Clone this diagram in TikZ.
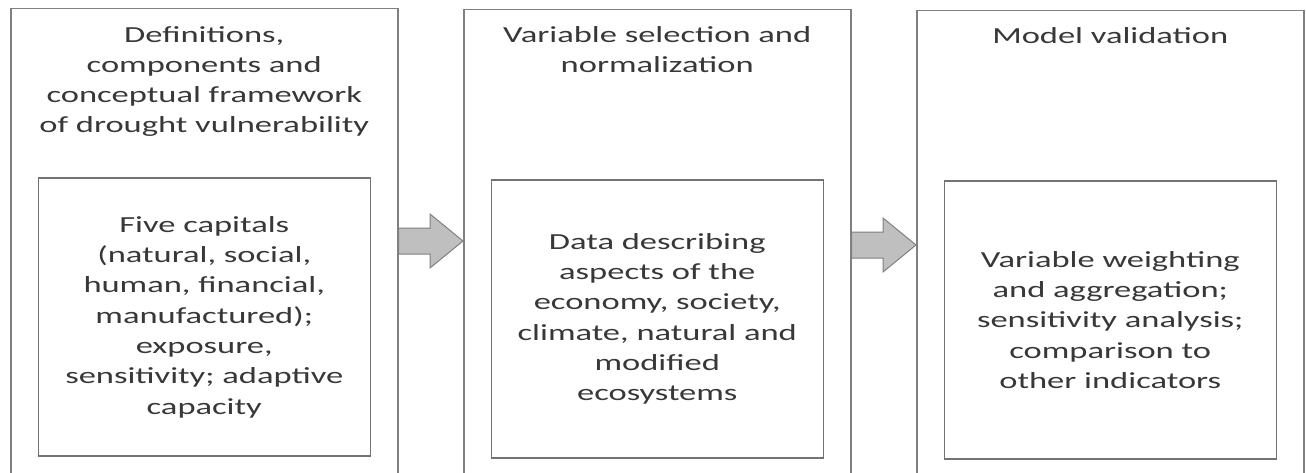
\documentclass[tikz,border=0pt]{standalone}
\usepackage{fontspec}
\setmainfont{Carlito}[FakeStretch = 1.5]
\usetikzlibrary{calc}

\tikzset{
	frame/.style = {draw = black!50, line width = 1.5pt, anchor = north west, inner sep = 0pt,
		minimum width = 387pt, minimum height = 480pt},
	title/.style = {anchor = north, align = center, inner sep = 0pt, text = black!78,
		font = \fontsize{23}{30}\selectfont},
	content/.style = {draw = black!55, line width = 1.5pt, align = center, inner sep = 0pt, text = black!78,
		minimum width = 332pt, minimum height = 278pt, font = \fontsize{23}{30.3}\selectfont},
	block/.style = {fill = black!25, draw = black!50, line width = 1pt},
}

% block arrow from tail #1 to tip #2
\newcommand{\blockArrow}[2]{%
	\filldraw [block] ($(#1)+(0,-13)$) -- ($(#2)+(-33,-13)$) -- ($(#2)+(-33,-27)$) -- (#2)
		-- ($(#2)+(-33,27)$) -- ($(#2)+(-33,13)$) -- ($(#1)+(0,13)$) -- cycle;}

\begin{document}
\begin{tikzpicture}[x = 1pt, y = -1pt]
	\useasboundingbox (0,0) rectangle (1306,473);
	\clip (0,0) rectangle (1306,473);
	\fill [white] (0,0) rectangle (1306,473);

	\begin{scope}
		\node [frame] (defBox) at (10,8) {};
		\node [frame] (varBox) at (463,9) {};
		\node [frame] (valBox) at (916,10) {};
	\end{scope}

	\begin{scope}
		\node [title] (defTitle) at ($(defBox.north)+(0,18)$) {Definitions,\\components and\\conceptual framework\\of drought vulnerability};
		\node [title] (varTitle) at ($(varBox.north)+(0,17)$) {Variable selection and\\normalization};
		\node [title] (valTitle) at ($(valBox.north)+(0,17)$) {Model validation};
	\end{scope}

	\begin{scope}
		\node [content] (defInner) at ($(defBox.north)+(0,309)$) {Five capitals\\(natural, social,\\human, financial,\\manufactured);\\exposure,\\sensitivity; adaptive\\capacity};
		\node [content] (varInner) at ($(varBox.north)+(0,310)$) {Data describing\\aspects of the\\economy, society,\\climate, natural and\\modified\\ecosystems};
		\node [content] (valInner) at ($(valBox.north)+(0,310)$) {Variable weighting\\and aggregation;\\sensitivity analysis;\\comparison to\\other indicators};
	\end{scope}

	\coordinate (arrOneTail) at ($(defBox.north east)+(0,233)$);
	\coordinate (arrOneTip) at ($(varBox.north west)+(0,232)$);
	\coordinate (arrTwoTail) at ($(varBox.north east)+(0,236)$);
	\coordinate (arrTwoTip) at ($(valBox.north west)+(0,235)$);
	\blockArrow{arrOneTail}{arrOneTip}
	\blockArrow{arrTwoTail}{arrTwoTip}
\end{tikzpicture}
\end{document}
